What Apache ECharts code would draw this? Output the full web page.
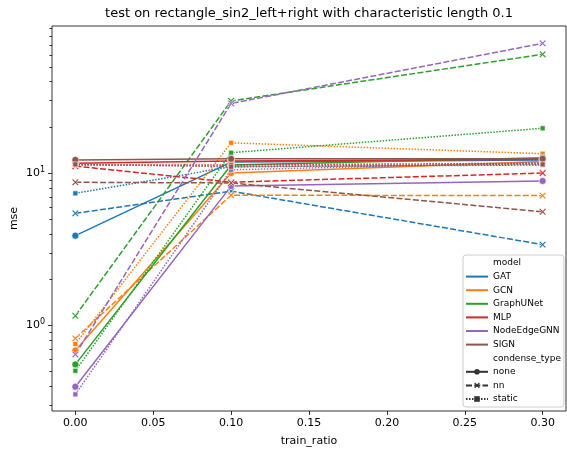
<!DOCTYPE html>
<html>
<head>
<meta charset="utf-8">
<script src="https://cdn.jsdelivr.net/npm/echarts@6/dist/echarts.min.js"></script>
<style>
html, body { margin: 0; padding: 0; background: #fff; }
#main { width: 567px; height: 449px; }
</style>
</head>
<body>
<div id="main"></div>
<script>
// x values
var trainRatio = [0, 0.1, 0.3];
var models = ['GAT', 'GCN', 'GraphUNet', 'MLP', 'NodeEdgeGNN', 'SIGN'];
var condenseTypes = ['none', 'nn', 'static'];

// mse, rows: none, nn, static
var mseGAT         = [[3.87, 11.8, 12.2],  [5.43, 7.6, 3.38],   [7.35, 11.0, 11.3]];
var mseGCN         = [[0.68, 10.0, 11.9],  [0.817, 7.15, 7.1],  [0.75, 15.8, 13.4]];
var mseGraphUNet   = [[0.551, 11.3, 12.6], [1.15, 29.8, 60.4],  [0.50, 13.6, 19.7]];
var mseMLP         = [[11.6, 12.0, 12.3],  [11.1, 8.7, 10.0],   [11.3, 11.3, 11.6]];
var mseNodeEdgeGNN = [[0.393, 8.2, 8.86],  [0.641, 28.7, 71.3], [0.35, 10.5, 11.7]];
var mseSIGN        = [[12.2, 12.4, 12.4],  [8.69, 8.6, 5.56],   [11.4, 11.0, 11.4]];
var mseByModel = [mseGAT, mseGCN, mseGraphUNet, mseMLP, mseNodeEdgeGNN, mseSIGN];

// tick values
var xTicks = [0, 0.05, 0.1, 0.15, 0.2, 0.25, 0.3];
var yMajor = [1, 10];
var yMinor = [0.3, 0.4, 0.5, 0.6, 0.7, 0.8, 0.9, 2, 3, 4, 5, 6, 7, 8, 9, 20, 30, 40, 50, 60, 70, 80, 90];

var X_MIN = -0.015, X_MAX = 0.315;
var Y_MIN = 0.272, Y_MAX = 92.7;

var colors = ['#1f77b4', '#ff7f0e', '#2ca02c', '#d62728', '#9467bd', '#8c564b'];
var FONT = 'DejaVu Sans';
var xMark = 'path://M0,1.6L1.6,0L5,3.4L8.4,0L10,1.6L6.6,5L10,8.4L8.4,10L5,6.6L1.6,10L0,8.4L3.4,5Z';
var styleDefs = [
    { dash: 'solid', symbol: 'circle', size: 7 },
    { dash: [6, 2.25], symbol: xMark, size: 7 },
    { dash: [1.5, 1.5], symbol: 'rect', size: 5 }
];

var myChart = echarts.init(document.getElementById('main'));

var series = [];
models.forEach(function (m, i) {
    condenseTypes.forEach(function (c, j) {
        var st = styleDefs[j];
        series.push({
            name: m + ' ' + c,
            type: 'line',
            data: trainRatio.map(function (x, k) { return [x, mseByModel[i][j][k]]; }),
            symbol: st.symbol,
            symbolSize: st.size,
            showSymbol: true,
            lineStyle: { color: colors[i], width: 1.5, type: st.dash },
            itemStyle: { color: colors[i], borderColor: '#fff', borderWidth: 0.6 },
            emphasis: { disabled: true },
            silent: true
        });
    });
});

// legend-only series
var hidden = { color: '#fff', opacity: 0 };
series.push({ name: 'model', type: 'line', data: [], symbol: 'none',
    lineStyle: { color: '#fff', opacity: 0 }, itemStyle: hidden });
models.forEach(function (m, i) {
    series.push({ name: m, type: 'line', data: [], symbol: 'none',
        lineStyle: { color: colors[i], width: 1.5 }, itemStyle: { color: colors[i], opacity: 0 } });
});
series.push({ name: 'condense_type', type: 'line', data: [], symbol: 'none',
    lineStyle: { color: '#fff', opacity: 0 }, itemStyle: hidden });
condenseTypes.forEach(function (c, j) {
    var st = styleDefs[j];
    series.push({ name: c, type: 'line', data: [], symbol: st.symbol,
        lineStyle: { color: '#333', width: 1.5, type: st.dash }, itemStyle: { color: '#333' } });
});

// y ticks (log axis) drawn through the axis scale
var tickData = yMajor.map(function (v) { return [X_MIN, v, 4]; })
    .concat(yMinor.map(function (v) { return [X_MIN, v, 2.5]; }));
series.push({
    type: 'custom',
    name: 'yticks',
    data: tickData,
    clip: false,
    silent: true,
    z: 5,
    encode: { x: 0, y: 1 },
    renderItem: function (params, api) {
        var p = api.coord([api.value(0), api.value(1)]);
        var len = api.value(2);
        var y = Math.round(p[1]) + 0.5;
        return {
            type: 'line',
            shape: { x1: p[0] - len, y1: y, x2: p[0], y2: y },
            style: { stroke: '#000', lineWidth: 0.8 }
        };
    }
});

var legendData = ['model'].concat(models).concat(['condense_type']).concat(condenseTypes);

var option = {
    animation: false,
    textStyle: { fontFamily: FONT },
    title: {
        text: 'test on rectangle_sin2_left+right with characteristic length 0.1',
        left: 309,
        top: 7,
        padding: 0,
        textAlign: 'center',
        textStyle: { fontFamily: FONT, fontSize: 13, fontWeight: 'normal', color: '#000' }
    },
    grid: {
        left: 52, right: 1, top: 26, bottom: 38,
        outerBoundsMode: 'none',
        containLabel: false,
        show: true, borderColor: '#000', borderWidth: 0.8
    },
    legend: {
        data: legendData,
        orient: 'vertical',
        left: 463,
        top: 255,
        padding: [2, 3, 2, 2],
        itemWidth: 22,
        itemHeight: 7,
        itemGap: 1.6,
        selectedMode: false,
        backgroundColor: 'rgba(255,255,255,0.8)',
        borderColor: '#cccccc',
        borderWidth: 1,
        borderRadius: 3,
        textStyle: { fontFamily: FONT, fontSize: 9, color: '#000', lineHeight: 12 }
    },
    xAxis: {
        type: 'value',
        min: X_MIN,
        max: X_MAX,
        name: 'train_ratio',
        nameLocation: 'middle',
        nameGap: 25,
        nameMoveOverlap: false,
        nameTextStyle: { fontFamily: FONT, fontSize: 11, color: '#000' },
        axisLine: { show: false },
        splitLine: { show: false },
        axisTick: { show: true, length: 4, customValues: xTicks, lineStyle: { color: '#000', width: 0.8 } },
        axisLabel: {
            customValues: xTicks,
            margin: 7,
            fontFamily: FONT, fontSize: 11, color: '#000',
            formatter: function (v) { return v.toFixed(2); }
        }
    },
    yAxis: {
        type: 'log',
        logBase: 10,
        min: Y_MIN,
        max: Y_MAX,
        name: 'mse',
        nameLocation: 'middle',
        nameGap: 32,
        nameMoveOverlap: false,
        nameTextStyle: { fontFamily: FONT, fontSize: 11, color: '#000' },
        axisLine: { show: false },
        splitLine: { show: false },
        axisTick: { show: false },
        axisLabel: {
            margin: 7,
            fontFamily: FONT, color: '#000',
            formatter: function (v) {
                var l = Math.log10(v);
                var e = Math.round(l);
                if (Math.abs(l - e) > 1e-6) return '';
                return '{b|10}{s|' + e + '}';
            },
            rich: {
                b: { fontFamily: FONT, fontSize: 11, color: '#000' },
                s: { fontFamily: FONT, fontSize: 8, color: '#000', padding: [0, 0, 6, 0] }
            }
        }
    },
    series: series
};
myChart.setOption(option);
</script>
</body>
</html>
